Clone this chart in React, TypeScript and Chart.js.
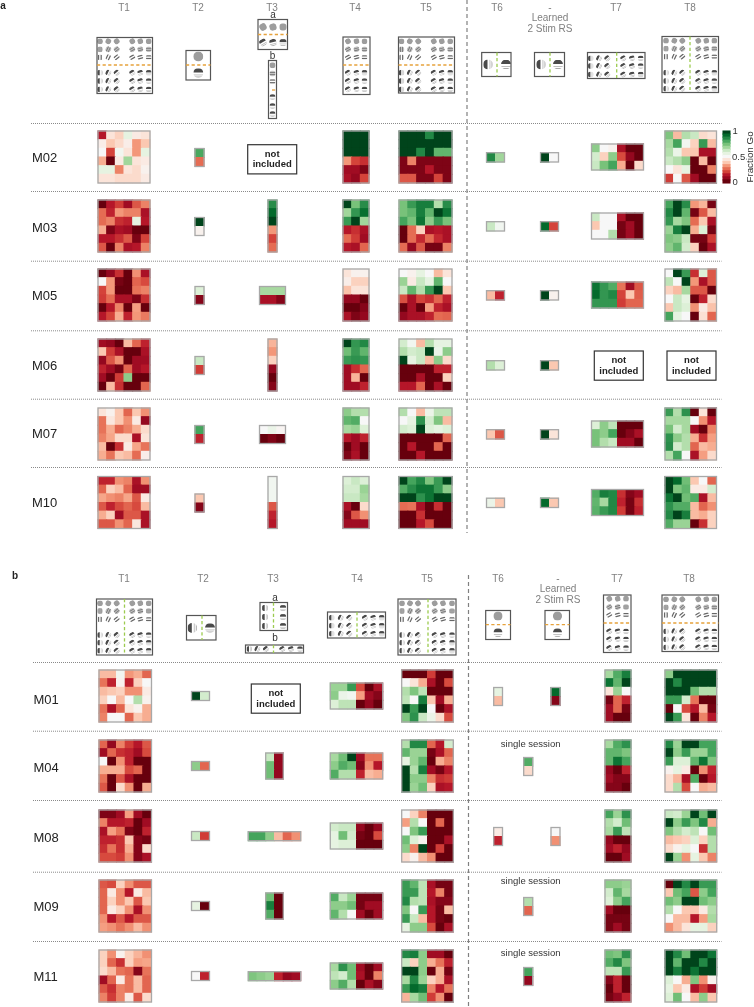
import React, { useEffect, useRef } from "react";
import { Chart, registerables } from "chart.js";

Chart.register(...registerables);

// ---------- Data: percent of "Go" responses per cell, row by row ----------
const M02_T1 = [12,44,40,56,46,44, 47,38,42,47,31,38, 50,19,52,44,31,56, 34,0,46,69,44,46, 56,56,28,44,42,48, 44,44,42,42,42,46];
const M02_T2 = [81,25];
const M02_T4 = [100,100,100, 100,100,100, 100,100,100, 31,19,16, 8,8,3, 10,6,19];
const M02_T5 = [100,100,100,88,100,100, 100,100,100,100,100,100, 100,100,88,100,78,78, 3,28,3,3,3,3, 3,3,3,12,3,3, 22,22,3,3,19,3];
const M02_T6 = [88,69];
const M02_RS = [100,50];
const M02_T7 = [72,50,48,10,0,0, 60,40,72,20,6,0, 62,75,82,34,0,42];
const M02_T8 = [74,36,66,62,42,44, 68,82,52,40,84,36, 66,54,38,38,10,10, 62,66,72,0,36,0, 50,44,56,0,0,28, 18,50,22,8,0,0];

const M03_T1 = [0,12,18,8,22,28, 25,14,31,28,28,10, 25,28,16,14,56,12, 34,3,10,8,0,0, 12,12,16,22,3,19, 22,0,28,10,12,28];
const M03_T2 = [100,48];
const M03_T3 = [87,94,100,31,19,25];
const M03_T4 = [100,75,87, 69,85,93, 84,100,69, 12,16,10, 25,18,8, 12,10,24];
const M03_T5 = [75,84,90,90,66,87, 75,78,90,78,100,92, 82,75,92,72,84,75, 0,25,40,10,12,10, 0,25,15,25,15,10, 25,6,22,2,2,28];
const M03_T6 = [62,52];
const M03_RS = [94,19];
const M03_T7 = [62,50,50,10,0,0, 38,50,50,2,8,0, 50,50,66,2,8,0];
const M03_T8 = [82,100,87,31,35,2, 88,100,78,2,22,36, 85,68,74,25,38,10, 70,90,100,34,58,2, 74,72,62,2,2,18, 72,78,60,40,0,10];

const M05_T1 = [0,6,16,0,30,10, 50,31,2,0,24,20, 19,31,0,0,26,28, 18,25,10,10,3,16, 0,12,28,0,32,0, 12,19,34,14,31,27];
const M05_T2 = [58,4];
const M05_T3 = [68,68,68, 10,10,4];
const M05_T4 = [44,48,48, 47,40,40, 37,44,44, 6,6,0, 0,0,4, 10,3,6];
const M05_T5 = [50,48,56,50,36,44, 70,46,62,56,78,50, 62,78,66,84,100,38, 21,10,19,16,24,14, 0,10,0,32,14,10, 6,10,10,14,25,24];
const M05_T6 = [36,14];
const M05_RS = [100,48];
const M05_T7 = [92,85,80,26,8,22, 94,85,88,19,38,23, 85,85,85,18,24,24];
const M05_T8 = [50,100,84,16,58,22, 64,50,100,31,10,22, 40,36,68,22,22,0, 50,62,56,0,14,42, 38,62,58,30,46,37, 82,56,50,0,43,24];

const M06_T1 = [8,6,0,36,24,14, 38,18,10,0,0,10, 6,22,30,0,8,8, 14,8,2,24,8,12, 8,0,18,72,0,0, 0,36,16,0,0,24];
const M06_T2 = [62,18];
const M06_T3 = [35,31,40,6,0,4];
const M06_T4 = [100,85,88, 76,84,78, 84,86,85, 8,16,24, 8,35,0, 8,8,14];
const M06_T5 = [60,52,36,66,56,56, 66,60,62,100,54,72, 100,56,62,36,72,42, 0,0,0,0,14,14, 0,0,10,0,0,40, 12,12,24,0,10,0];
const M06_T6 = [66,58];
const M06_RS = [100,38];

const M07_T1 = [44,48,38,24,38,30, 26,45,38,30,46,6, 26,34,24,28,34,42, 28,33,42,42,10,44, 36,0,16,46,33,26, 34,26,38,36,25,47];
const M07_T2 = [82,14];
const M07_T3 = [50,54,49, 0,3,0];
const M07_T4 = [72,66,66, 78,80,50, 68,70,58, 12,8,14, 0,8,0, 3,10,0];
const M07_T5 = [66,50,36,54,64,64, 50,56,86,60,74,36, 60,58,100,58,56,58, 0,0,0,0,0,24, 0,12,0,0,24,0, 0,0,12,0,0,0];
const M07_T6 = [38,22];
const M07_RS = [100,44];
const M07_T7 = [58,72,64,0,0,0, 75,72,82,0,4,10, 75,66,62,8,8,0];
const M07_T8 = [84,66,86,0,44,0, 68,68,68,50,30,12, 75,60,68,8,0,28, 86,72,66,34,16,32, 87,60,66,24,36,34, 66,82,50,10,32,42];

const M10_T1 = [14,14,30,28,10,30, 24,40,36,24,8,8, 33,30,28,33,22,46, 22,14,20,24,20,36, 34,40,8,22,22,10, 22,22,30,24,45,10];
const M10_T2 = [38,4];
const M10_T3 = [52,52,52,22,14,12];
const M10_T4 = [58,62,58, 60,60,70, 62,62,68, 10,0,42, 4,22,30, 8,8,8];
const M10_T5 = [100,82,88,74,84,100, 80,87,92,92,84,72, 100,100,86,92,100,100, 25,26,10,0,16,0, 0,0,16,0,0,0, 0,0,12,20,0,0];
const M10_T6 = [54,38];
const M10_RS = [94,38];
const M10_T7 = [80,90,88,16,4,8, 78,68,88,14,2,16, 79,84,88,18,2,14];
const M10_T8 = [100,94,76,38,50,24, 100,74,78,46,46,60, 92,100,76,80,10,36, 86,80,80,36,24,30, 88,100,90,36,34,40, 80,70,70,0,16,40];

const M01_T1 = [36,36,52,31,34,24, 26,14,48,14,40,50, 36,38,40,30,30,46, 40,50,36,50,66,48, 26,10,24,44,48,34, 28,50,50,24,38,34];
const M01_T2 = [100,60];
const M01_T4 = [70,70,84,20,0,10, 72,54,52,32,8,4, 58,64,64,0,6,0];
const M01_T5 = [0,0,0,18,0,0, 50,44,34,10,0,20, 66,74,64,0,0,0, 64,50,90,38,8,34, 100,84,100,50,0,10, 74,86,62,54,42,20];
const M01_T6 = [56,36];
const M01_RS = [94,4];
const M01_T7 = [68,80,90, 92,78,100, 44,70,50, 2,24,14, 8,24,2, 8,0,0];
const M01_T8 = [72,100,100,100,100,100, 100,88,100,100,100,100, 100,100,100,76,66,66, 84,84,60,26,0,0, 0,50,20,12,36,2, 100,84,44,0,28,12];

const M04_T1 = [24,6,28,18,12,22, 8,24,16,14,8,20, 50,0,30,14,0,0, 34,34,34,20,24,0, 26,0,22,10,0,0, 22,0,42,30,0,34];
const M04_T2 = [72,24];
const M04_T3 = [62,6, 76,6, 76,6];
const M04_T4 = [68,76,100,8,26,26, 72,80,76,4,30,12, 80,66,66,14,36,34];
const M04_T5 = [66,88,88,24,12,60, 78,70,70,2,10,24, 56,70,78,0,34,28, 100,66,90,8,2,12, 100,72,72,28,16,18, 100,70,76,40,10,12];
const M04_T6 = [80,42];
const M04_T7 = [68,80,86, 78,78,74, 78,92,82, 6,0,14, 8,4,4, 4,4,0];
const M04_T8 = [88,70,100,100,82,82, 100,72,84,70,70,82, 84,58,58,78,92,74, 48,56,46,0,30,14, 42,35,10,80,0,12, 42,66,20,50,34,36];

const M08_T1 = [3,3,8,32,8,0, 28,12,12,14,0,8, 10,32,26,3,0,14, 14,14,16,38,4,2, 16,26,16,34,4,42, 20,20,18,30,4,10];
const M08_T2 = [62,18];
const M08_T3 = [82,82,72,36,24,30];
const M08_T4 = [60,62,62,6,0,6, 56,76,60,2,0,20, 56,58,58,0,0,0];
const M08_T5 = [50,40,28,0,0,0, 32,66,50,0,24,0, 50,74,84,0,0,0, 76,58,48,0,0,10, 72,28,100,0,18,0, 42,48,36,30,0,0];
const M08_T6 = [46,14];
const M08_RS = [50,30];
const M08_T7 = [82,70,86, 66,60,76, 68,84,64, 6,0,0, 8,14,6, 0,0,8];
const M08_T8 = [62,60,70,100,76,100, 100,72,84,74,88,34, 74,66,60,64,50,76, 36,38,40,58,40,66, 42,48,56,50,16,66, 100,70,30,56,38,28];

const M09_T1 = [22,20,40,30,22,22, 24,46,30,12,46,36, 24,40,30,38,22,38, 24,46,40,30,10,30, 30,12,22,12,22,22, 32,30,26,30,36,30];
const M09_T2 = [56,0];
const M09_T3 = [76,0, 90,0, 80,0];
const M09_T4 = [80,62,70,2,2,2, 72,72,76,2,8,8, 78,66,50,8,0,8];
const M09_T5 = [84,78,64,10,2,2, 84,84,64,12,28,2, 88,66,64,10,4,4, 74,50,84,12,2,36, 84,62,36,12,2,0, 56,72,72,20,0,10];
const M09_T6 = [66,24];
const M09_T7 = [72,72,70, 60,78,68, 58,72,82, 8,0,0, 2,2,2, 2,8,2];
const M09_T8 = [0,100,88,100,84,84, 38,76,82,22,72,82, 76,72,100,100,76,72, 66,50,38,38,46,66, 50,36,36,12,32,68, 30,36,44,56,56,40];

const M11_T1 = [40,30,48,40,35,30, 40,24,16,40,32,33, 42,36,26,24,4,26, 8,24,46,26,36,24, 22,16,28,26,36,24, 28,18,28,46,22,42];
const M11_T2 = [50,14];
const M11_T3 = [74,72,70,14,6,8];
const M11_T4 = [68,86,76,8,0,8, 64,60,76,10,0,28, 72,80,66,0,10,4];
const M11_T5 = [88,90,72,8,8,0, 62,40,72,34,26,14, 100,100,72,0,34,2, 68,88,70,40,34,10, 84,94,90,28,12,26, 35,68,76,18,30,0];
const M11_T6 = [82,6];
const M11_T7 = [76,74,86, 80,88,74, 64,64,84, 4,14,0, 0,14,0, 2,6,14];
const M11_T8 = [100,88,76,100,100,92, 100,78,100,100,88,100, 100,90,100,92,100,100, 58,50,34,74,30,48, 56,38,46,10,18,8, 58,76,50,36,72,38];

const COLORBAR_LEVELS = [100,94,88,81,75,69,62,56,50,44,38,31,25,19,12,6,0];

const TASKS = ["T1", "T2", "T3", "T4", "T5", "T6", "-", "T7", "T8"];
const MICE_A = ["M02", "M03", "M05", "M06", "M07", "M10"];
const MICE_B = ["M01", "M04", "M08", "M09", "M11"];

// ---------- Colour map: reds (0 to 0.5), greens (0.5 to 1) ----------
const REDS = ["#f7f7f7", "#fbe3d8", "#fbc6ae", "#f4997b", "#e56c53", "#d34139", "#b8172a", "#960820", "#67000d"];
const GREENS = ["#f7f7f7", "#e5f3e0", "#c7e7c0", "#a3d79c", "#78c27a", "#48a75f", "#258a47", "#046c2d", "#00441b"];
const rgb = (h: string) => [1, 3, 5].map((i) => parseInt(h.slice(i, i + 2), 16));
function colour(pct: number) {
  const ramp = pct < 50 ? REDS : GREENS;
  const t = (Math.abs(pct - 50) / 50) * 8;
  const i = Math.min(7, Math.floor(t));
  const a = rgb(ramp[i]);
  const b = rgb(ramp[i + 1]);
  const f = t - i;
  return `rgb(${a.map((v, k) => Math.round(v + (b[k] - v) * f)).join(",")})`;
}

// ---------- Layout of the heat maps, in page pixels ----------
type Heat = { name: string; v: number[]; rows: number; cols: number; x: number; y: number; w: number; h: number };
const heats: Heat[] = [];
const heat = (name: string, v: number[], rows: number, cols: number, x: number, y: number, w: number, h: number) =>
  heats.push({ name, v, rows, cols, x, y, w, h });

function rowA(m: string, top: number, d: any) {
  heat(m + " T1", d.t1, 6, 6, 98, top, 52, 52);
  heat(m + " T2", d.t2, 2, 1, 195, top + 17.5, 9, 18);
  if (d.t3) heat(m + " T3", d.t3, 6, 1, 268, top, 9, 52);
  if (d.t3wide) heat(m + " T3", d.t3wide, 2, 3, 259.5, top + 17.5, 26, 18);
  heat(m + " T4", d.t4, 6, 3, 343, top, 26, 52);
  heat(m + " T5", d.t5, 6, 6, 399, top, 53, 52);
  heat(m + " T6", d.t6, 1, 2, 486.5, top + 21.7, 18, 9.3);
  heat(m + " RS", d.rs, 1, 2, 540.5, top + 21.7, 18, 9.3);
  if (d.t7) heat(m + " T7", d.t7, 3, 6, 591.5, top + 13, 52, 26);
  if (d.t8) heat(m + " T8", d.t8, 6, 6, 665, top, 51.5, 52);
}
rowA("M02", 131, { t1: M02_T1, t2: M02_T2, t4: M02_T4, t5: M02_T5, t6: M02_T6, rs: M02_RS, t7: M02_T7, t8: M02_T8 });
rowA("M03", 200, { t1: M03_T1, t2: M03_T2, t3: M03_T3, t4: M03_T4, t5: M03_T5, t6: M03_T6, rs: M03_RS, t7: M03_T7, t8: M03_T8 });
rowA("M05", 269, { t1: M05_T1, t2: M05_T2, t3wide: M05_T3, t4: M05_T4, t5: M05_T5, t6: M05_T6, rs: M05_RS, t7: M05_T7, t8: M05_T8 });
rowA("M06", 339, { t1: M06_T1, t2: M06_T2, t3: M06_T3, t4: M06_T4, t5: M06_T5, t6: M06_T6, rs: M06_RS });
rowA("M07", 408, { t1: M07_T1, t2: M07_T2, t3wide: M07_T3, t4: M07_T4, t5: M07_T5, t6: M07_T6, rs: M07_RS, t7: M07_T7, t8: M07_T8 });
rowA("M10", 476.5, { t1: M10_T1, t2: M10_T2, t3: M10_T3, t4: M10_T4, t5: M10_T5, t6: M10_T6, rs: M10_RS, t7: M10_T7, t8: M10_T8 });

function rowB(m: string, top: number, d: any) {
  heat(m + " T1", d.t1, 6, 6, 99, top, 52.5, 52);
  heat(m + " T2", d.t2, 1, 2, 191.5, top + 21.5, 18, 9);
  if (d.t3wide) heat(m + " T3", d.t3wide, 1, 6, 248.3, top + 21.7, 52.4, 9);
  if (d.t3) heat(m + " T3", d.t3, 3, 2, 265.7, top + 13, 17.6, 26);
  heat(m + " T4", d.t4, 3, 6, 330.3, top + 13, 52.4, 26);
  heat(m + " T5", d.t5, 6, 6, 401.7, top, 51.6, 52);
  if (d.rs) {
    heat(m + " T6", d.t6, 2, 1, 493.7, top + 17.5, 8.8, 18);
    heat(m + " RS", d.rs, 2, 1, 551, top + 17.5, 9, 18);
  } else {
    heat(m + " T6", d.t6, 2, 1, 523.7, top + 17.5, 9, 18);
  }
  heat(m + " T7", d.t7, 6, 3, 605, top, 26, 52);
  heat(m + " T8", d.t8, 6, 6, 665, top, 51.7, 52);
}
rowB("M01", 670, { t1: M01_T1, t2: M01_T2, t4: M01_T4, t5: M01_T5, t6: M01_T6, rs: M01_RS, t7: M01_T7, t8: M01_T8 });
rowB("M04", 740, { t1: M04_T1, t2: M04_T2, t3: M04_T3, t4: M04_T4, t5: M04_T5, t6: M04_T6, t7: M04_T7, t8: M04_T8 });
rowB("M08", 810, { t1: M08_T1, t2: M08_T2, t3wide: M08_T3, t4: M08_T4, t5: M08_T5, t6: M08_T6, rs: M08_RS, t7: M08_T7, t8: M08_T8 });
rowB("M09", 880, { t1: M09_T1, t2: M09_T2, t3: M09_T3, t4: M09_T4, t5: M09_T5, t6: M09_T6, t7: M09_T7, t8: M09_T8 });
rowB("M11", 950, { t1: M11_T1, t2: M11_T2, t3wide: M11_T3, t4: M11_T4, t5: M11_T5, t6: M11_T6, t7: M11_T7, t8: M11_T8 });
heat("Colorbar", COLORBAR_LEVELS, COLORBAR_LEVELS.length, 1, 723, 131, 7, 52);

const datasets = heats.map((h) => {
  const cw = h.w / h.cols;
  const ch = h.h / h.rows;
  return {
    label: h.name,
    barThickness: cw + 0.4,
    borderWidth: 0,
    backgroundColor: h.v.map(colour),
    data: h.v.map((_, i) => {
      const r = Math.floor(i / h.cols);
      const c = i % h.cols;
      return { x: h.x + (c + 0.5) * cw, y: [h.y + r * ch - 0.2, h.y + (r + 1) * ch + 0.2] };
    }),
  };
});

// ---------- Stimulus icons ----------
function stim(ctx: CanvasRenderingContext2D, x: number, y: number, r: number, kind: string, deg: number) {
  ctx.save();
  ctx.translate(x, y);
  ctx.rotate((-deg * Math.PI) / 180);
  ctx.beginPath();
  ctx.arc(0, 0, r, 0, Math.PI * 2);
  ctx.clip();
  const bar = (yy: number, hh: number, col: string) => {
    ctx.fillStyle = col;
    ctx.fillRect(-r, yy, 2 * r, hh);
  };
  if (kind === "s") {
    bar(-r, 2 * r, "#9d9d9d");
  } else if (kind === "h") {
    bar(-r, 2 * r, "#c4c4c4");
    bar(-r * 0.5, r * 0.32, "#7a7a7a");
    bar(r * 0.2, r * 0.32, "#7a7a7a");
  } else if (kind === "g") {
    bar(-r * 0.7, r * 0.42, "#666");
    bar(r * 0.2, r * 0.42, "#666");
  } else {
    bar(-r * 0.9, r * 0.8, "#4a4a4a");
    bar(r * 0.3, r * 0.18, "#b8b8b8");
    bar(r * 0.7, r * 0.2, "#a8a8a8");
  }
  ctx.restore();
}

type Diagram = {
  box: number[];
  xs: number[];
  ys: number[];
  kinds: string[];
  deg: number[];
  r: number;
  orange?: number;
  orangeX?: number[];
  green?: number;
};
const SIX = ["s", "h", "g", "c", "c", "c"];
const CCC = ["c", "c", "c"];
const A6 = [90, 65, 40, 30, 15, 0];
const A3 = [30, 15, 0];
const diagrams: Diagram[] = [
  // panel a
  { box: [97, 37.5, 152.5, 93.5], xs: [100, 108.3, 116.7, 132.3, 140.3, 148.7], ys: [41.3, 49.3, 57.3, 72.7, 81, 89.3], kinds: SIX, deg: A6, r: 2.9, orange: 65 },
  { box: [186, 50.5, 210.5, 80], xs: [198.3], ys: [56.5, 73], kinds: ["s", "c"], deg: [0], r: 5, orange: 65 },
  { box: [258, 19.5, 287.5, 49.5], xs: [263, 273, 283], ys: [27, 42.5], kinds: ["s", "c"], deg: A3, r: 3.7, orange: 34.5 },
  { box: [268.5, 60.5, 276.5, 118.5], xs: [272.5], ys: [65.3, 73.5, 81.5, 97, 106, 114], kinds: SIX, deg: [0], r: 3, orange: 90, orangeX: [272, 277] },
  { box: [343, 37, 370, 94.5], xs: [348, 356.5, 364.5], ys: [41.3, 49.3, 57.3, 72.7, 81, 89.3], kinds: SIX, deg: A3, r: 2.9, orange: 65 },
  { box: [398.5, 37, 454.5, 93], xs: [401.5, 409.8, 418.2, 433.8, 441.8, 450.2], ys: [41.3, 49.3, 57.3, 72.7, 81, 89.3], kinds: SIX, deg: A6, r: 2.9, orange: 65 },
  { box: [481.7, 52.5, 511, 76.5], xs: [488, 506], ys: [64.5], kinds: ["c"], deg: [90, 0], r: 5, green: 497 },
  { box: [534.5, 52.5, 564.5, 76.5], xs: [541, 558], ys: [64.5], kinds: ["c"], deg: [90, 0], r: 5, green: 550 },
  { box: [587.5, 52.5, 645, 78.5], xs: [590.7, 599, 607.3, 623.3, 632, 640.7], ys: [58.3, 66, 74.5], kinds: CCC, deg: A6, r: 2.9, green: 616.7 },
  { box: [662, 36.5, 718.5, 92.5], xs: [666, 674.3, 682.3, 698.3, 706.3, 714.3], ys: [40.7, 48.7, 56.7, 72.7, 81, 88.7], kinds: SIX, deg: A6, r: 2.9, green: 690 },
  // panel b
  { box: [96.5, 599, 152.5, 655], xs: [100, 108.3, 116.7, 132.3, 140.3, 148.7], ys: [603.3, 611, 619.3, 635, 642.7, 650.7], kinds: SIX, deg: A6, r: 2.9, green: 124.5 },
  { box: [186.5, 615.5, 216, 640], xs: [192.3, 210], ys: [628], kinds: ["c"], deg: [90, 0], r: 5, green: 202 },
  { box: [260, 602.5, 287.5, 630.5], xs: [265, 283], ys: [608, 617, 626], kinds: CCC, deg: [90, 0], r: 3.2, green: 273.5 },
  { box: [245.5, 645, 303.5, 653], xs: [249.3, 257.3, 266, 282.3, 291, 300], ys: [649], kinds: ["c"], deg: A6, r: 2.9, green: 273.5 },
  { box: [327.5, 612, 385.5, 638], xs: [331.7, 340.7, 349.3, 365, 373.3, 381.7], ys: [617.7, 625.7, 633.7], kinds: CCC, deg: A6, r: 2.9, green: 357 },
  { box: [398, 599, 456, 655], xs: [402, 410, 418, 434.7, 443, 452], ys: [603.3, 611, 619.3, 635, 642.7, 650.7], kinds: SIX, deg: A6, r: 2.9, green: 428 },
  { box: [485.7, 610.5, 510.5, 639.5], xs: [498], ys: [616, 632.7], kinds: ["s", "c"], deg: [0], r: 4.6, orange: 624.7 },
  { box: [545, 610.5, 569.5, 639.5], xs: [557.5], ys: [616, 632.7], kinds: ["s", "c"], deg: [0], r: 4.6, orange: 624.7 },
  { box: [603.5, 595, 631, 652.5], xs: [609.3, 617.7, 626], ys: [598.7, 607, 615, 631.3, 639.3, 648], kinds: SIX, deg: A3, r: 2.9, orange: 623 },
  { box: [662, 595, 718.5, 651.5], xs: [666, 674.3, 682.3, 698.3, 706.3, 714.3], ys: [599.3, 607.3, 615, 631.3, 639.3, 647.3], kinds: SIX, deg: A6, r: 2.9, orange: 623 },
];

// ---------- Text tables ----------
const HEAD_A_X = [124, 198, 272, 355, 426, 497, 550, 616, 690];
const HEAD_B_X = [124, 203, 273, 357, 427, 498, 558, 617, 689];
const ROW_A_Y = [158, 228, 296, 366, 434, 503];
const ROW_B_Y = [700, 768, 838, 907, 977];
const DIV_A = [123, 191, 260.7, 330.3, 398.7, 467];
const DIV_B = [662, 730.7, 800, 871.7, 941];
const NOT_INCLUDED = [
  [247.7, 144.7],
  [594.3, 351],
  [667, 351],
  [251.3, 684],
];
const SINGLE_Y = [744, 881, 953];
const FONT = '"Liberation Sans", Arial, sans-serif';

const figurePlugin = {
  id: "figure",
  afterDatasetsDraw(chart: any) {
    const ctx: CanvasRenderingContext2D = chart.ctx;
    const px = (v: number) => chart.scales.x.getPixelForValue(v);
    const py = (v: number) => chart.scales.y.getPixelForValue(v);
    ctx.save();

    // heat-map frames
    ctx.strokeStyle = "#a8a8a8";
    ctx.lineWidth = 1.3;
    heats.forEach((h) => {
      if (h.name === "Colorbar") return;
      ctx.strokeRect(px(h.x), py(h.y), h.w, h.h);
    });

    // dividers
    ctx.strokeStyle = "#8a8a8a";
    ctx.lineWidth = 1;
    ctx.setLineDash([1, 1]);
    [...DIV_A, ...DIV_B].forEach((y, i) => {
      ctx.beginPath();
      ctx.moveTo(px(i < DIV_A.length ? 31 : 33), py(y) + 0.5);
      ctx.lineTo(px(721.5), py(y) + 0.5);
      ctx.stroke();
    });
    ctx.strokeStyle = "#808080";
    ctx.lineWidth = 1.2;
    ctx.setLineDash([4, 3]);
    [[467, 0, 533], [468.5, 575, 1007]].forEach(([x, a, b]) => {
      ctx.beginPath();
      ctx.moveTo(px(x), py(a));
      ctx.lineTo(px(x), py(b));
      ctx.stroke();
    });
    ctx.setLineDash([]);

    // stimulus diagrams
    diagrams.forEach((d) => {
      d.ys.forEach((y, r) =>
        d.xs.forEach((x, c) => stim(ctx, px(x), py(y), d.r, d.kinds[r] ?? d.kinds[0], d.deg[c] ?? d.deg[0]))
      );
      const [x0, y0, x1, y1] = d.box;
      ctx.strokeStyle = "#555555";
      ctx.lineWidth = 1.2;
      ctx.strokeRect(px(x0), py(y0), x1 - x0, y1 - y0);
      ctx.lineWidth = 1.3;
      if (d.orange !== undefined) {
        const [a, b] = d.orangeX ?? [x0, x1];
        ctx.strokeStyle = "#e6a23c";
        ctx.setLineDash([3.2, 2.4]);
        ctx.beginPath();
        ctx.moveTo(px(a), py(d.orange));
        ctx.lineTo(px(b), py(d.orange));
        ctx.stroke();
      }
      if (d.green !== undefined) {
        ctx.strokeStyle = "#9ccb4f";
        ctx.setLineDash([3.2, 2.4]);
        ctx.beginPath();
        ctx.moveTo(px(d.green), py(y0));
        ctx.lineTo(px(d.green), py(y1));
        ctx.stroke();
      }
      ctx.setLineDash([]);
    });

    // text
    ctx.textBaseline = "middle";
    const text = (s: string, x: number, y: number, font: string, col: string, align: CanvasTextAlign = "center") => {
      ctx.font = font + " " + FONT;
      ctx.fillStyle = col;
      ctx.textAlign = align;
      ctx.fillText(s, px(x), py(y));
    };
    TASKS.forEach((t, i) => {
      text(t, HEAD_A_X[i], 8, "10px", "#808080");
      text(t, HEAD_B_X[i], 579, "10px", "#808080");
    });
    text("Learned", 550, 18.5, "10px", "#808080");
    text("2 Stim RS", 550, 29.5, "10px", "#808080");
    text("Learned", 558, 589.5, "10px", "#808080");
    text("2 Stim RS", 558, 600.5, "10px", "#808080");
    text("a", 3, 6, "bold 10px", "#222");
    text("b", 15, 576, "bold 10px", "#222");
    text("a", 273, 15, "10px", "#333");
    text("b", 272.5, 56.5, "10px", "#333");
    text("a", 275, 598, "10px", "#333");
    text("b", 275, 638.5, "10px", "#333");
    MICE_A.forEach((m, i) => text(m, 32, ROW_A_Y[i], "13px", "#222", "left"));
    MICE_B.forEach((m, i) => text(m, 33.5, ROW_B_Y[i], "13px", "#222", "left"));
    NOT_INCLUDED.forEach(([x, y]) => {
      ctx.strokeStyle = "#333";
      ctx.lineWidth = 1.2;
      ctx.strokeRect(px(x), py(y), 49, 29.2);
      text("not", x + 24.5, y + 9.3, "bold 9.5px", "#222");
      text("included", x + 24.5, y + 20, "bold 9.5px", "#222");
    });
    SINGLE_Y.forEach((y) => text("single session", 530.7, y, "9.5px", "#333"));
    text("1", 732.5, 131.5, "9.5px", "#333", "left");
    text("0.5", 732, 157, "9.5px", "#333", "left");
    text("0", 732.5, 182.5, "9.5px", "#333", "left");
    ctx.save();
    ctx.translate(px(750), py(157));
    ctx.rotate(-Math.PI / 2);
    ctx.font = "9.8px " + FONT;
    ctx.fillStyle = "#333";
    ctx.textAlign = "center";
    ctx.fillText("Fraction Go", 0, 0);
    ctx.restore();

    ctx.restore();
  },
};

export default function App() {
  const ref = useRef<HTMLCanvasElement>(null);
  useEffect(() => {
    const chart = new Chart(ref.current as HTMLCanvasElement, {
      type: "bar",
      data: { datasets: datasets as any },
      options: {
        animation: false,
        responsive: false,
        devicePixelRatio: 1,
        layout: { padding: 0 },
        events: [],
        scales: {
          x: { type: "linear", min: 0, max: 754, display: false, stacked: true, offset: false },
          y: { type: "linear", min: 0, max: 1007, reverse: true, display: false },
        },
        plugins: { legend: { display: false }, tooltip: { enabled: false }, title: { display: false } },
      },
      plugins: [figurePlugin],
    } as any);
    return () => chart.destroy();
  }, []);
  return (
    <div style={{ position: "fixed", left: 0, top: 0, width: 754, height: 1007, background: "#fff" }}>
      <canvas ref={ref} width={754} height={1007} style={{ display: "block" }} />
    </div>
  );
}
